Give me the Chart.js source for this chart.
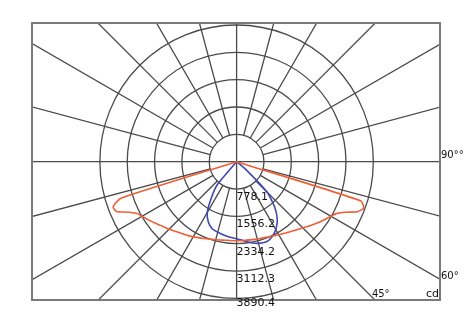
<!DOCTYPE html>
<html>
<head>
<meta charset="utf-8">
<script src="https://cdn.jsdelivr.net/npm/chart.js@4/dist/chart.umd.min.js"></script>
<style>
  html, body { margin: 0; padding: 0; background: #ffffff; }
  #wrap { width: 475px; height: 324px; }
</style>
</head>
<body>
<div id="wrap"><canvas id="c" width="475" height="324"></canvas></div>
<script>
// Ring (tick) values in cd
const ringValues = [778.1, 1556.2, 2334.2, 3112.3, 3890.4];
const ringLabels = ['778.1', '1556.2', '2334.2', '3112.3', '3890.4'];
// Spoke angles (degrees), every 15°
const spokeAngles = [0, 15, 30, 45, 60, 75, 90, 105, 120, 135, 150, 165, 180, 195, 210, 225, 240, 255, 270, 285, 300, 315, 330, 345];
// Angle labels
const angleLabelTexts = ['90°°', '60°', '45°', 'cd'];

// C0-C180 plane (orange): gamma angle in degrees (negative = left), intensity in cd
const orangeAngles = [-90, -72.5, -70, -67.5, -65, -62.5, -60, -55, -50, -45, -40, -35, -30, -25, -20, -15, -10, -5, 0,
                      5, 10, 15, 20, 25, 30, 35, 40, 45, 50, 55, 60, 62.5, 65, 67.5, 70, 72.5, 90];
const orangeValues = [0, 3450, 3740, 3700, 3400, 3190, 3110, 2960, 2820, 2720, 2610, 2540, 2470, 2400, 2340, 2300, 2265, 2250, 2248,
                      2250, 2260, 2280, 2300, 2340, 2400, 2470, 2560, 2660, 2800, 2950, 3100, 3200, 3400, 3720, 3850, 3700, 0];

// C90-C270 plane (blue)
const blueAngles = [-90, -40, -35, -30, -25, -20, -15, -10, -5, 0, 5, 10, 15, 20, 25, 30, 35, 40, 45, 50, 90];
const blueValues = [0, 850, 1250, 1670, 1900, 2030, 2075, 2120, 2160, 2190, 2260, 2340, 2405, 2435, 2370, 2230, 2020, 1690, 1230, 320, 0];

function toXY(angles, values) {
  return angles.map((a, i) => {
    const t = a * Math.PI / 180;
    return { x: values[i] * Math.sin(t), y: -values[i] * Math.cos(t) };
  });
}

const GRID = '#4a4a4a';

const polarGrid = {
  id: 'polarGrid',
  beforeDatasetsDraw(chart) {
    const { ctx, chartArea: a, scales: { x, y } } = chart;
    const cx = x.getPixelForValue(0), cy = y.getPixelForValue(0);
    const k = x.getPixelForValue(1000) - cx;
    ctx.save();
    ctx.beginPath();
    ctx.rect(a.left, a.top, a.right - a.left, a.bottom - a.top);
    ctx.clip();
    ctx.strokeStyle = GRID;
    ctx.lineWidth = 1.3;
    // circles
    ringValues.forEach(v => {
      ctx.beginPath();
      ctx.arc(cx, cy, v * k / 1000, 0, Math.PI * 2);
      ctx.stroke();
    });
    // spokes
    const r0 = ringValues[0] * k / 1000;
    const far = 2000;
    spokeAngles.forEach(d => {
      const t = d * Math.PI / 180;
      const sx = Math.sin(t), sy = Math.cos(t);
      const start = (d % 90 === 0) ? 0 : r0;
      ctx.beginPath();
      ctx.moveTo(cx + sx * start, cy + sy * start);
      ctx.lineTo(cx + sx * far, cy + sy * far);
      ctx.stroke();
    });
    ctx.restore();
    // frame
    ctx.save();
    ctx.strokeStyle = '#7a7a7a';
    ctx.lineWidth = 2;
    ctx.strokeRect(a.left, a.top, a.right - a.left, a.bottom - a.top);
    ctx.restore();
  },
  afterDatasetsDraw(chart) {
    const { ctx, chartArea: a, scales: { x, y } } = chart;
    const cx = x.getPixelForValue(0), cy = y.getPixelForValue(0);
    const k = x.getPixelForValue(1000) - cx;
    ctx.save();
    ctx.fillStyle = '#111';
    ctx.font = '11px "DejaVu Sans"';
    ctx.textAlign = 'left';
    ctx.textBaseline = 'middle';
    ringValues.forEach((v, i) => {
      const ry = cy + v * k / 1000;
      ctx.fillText(ringLabels[i], cx, Math.min(ry + 8, a.bottom + 3));
    });
    ctx.font = '10px "DejaVu Sans"';
    ctx.fillText(angleLabelTexts[0], a.right + 1, cy - 6);
    // 60° label where 60° spoke meets right edge
    const t60 = 60 * Math.PI / 180;
    const y60 = cy + (a.right - cx) / Math.tan(t60);
    ctx.fillText(angleLabelTexts[1], a.right + 1, y60 - 3);
    // 45° label where 45° spoke meets bottom edge
    const x45 = cx + (a.bottom - cy);
    ctx.fillText(angleLabelTexts[2], x45 - 3, a.bottom - 6);
    ctx.textAlign = 'right';
    ctx.font = '11px "DejaVu Sans"';
    ctx.fillText(angleLabelTexts[3], a.right - 1, a.bottom - 6);
    ctx.restore();
  }
};

const k = 136.7 / 3890.4;
new Chart(document.getElementById('c'), {
  type: 'scatter',
  data: {
    datasets: [
      { data: toXY(orangeAngles, orangeValues), showLine: true, borderColor: '#ee5f35', borderWidth: 1.6, pointRadius: 0, tension: 0.2 },
      { data: toXY(blueAngles, blueValues), showLine: true, borderColor: '#4048b0', borderWidth: 1.6, pointRadius: 0, tension: 0.2 }
    ]
  },
  options: {
    responsive: false,
    animation: false,
    layout: { padding: { left: 32, right: 35, top: 23, bottom: 24 } },
    plugins: { legend: { display: false }, tooltip: { enabled: false } },
    scales: {
      x: { type: 'linear', display: false, min: -(236.6 - 32) / k, max: (440 - 236.6) / k },
      y: { type: 'linear', display: false, min: -(300 - 161.7) / k, max: (161.7 - 23) / k }
    }
  },
  plugins: [polarGrid]
});
</script>
</body>
</html>
